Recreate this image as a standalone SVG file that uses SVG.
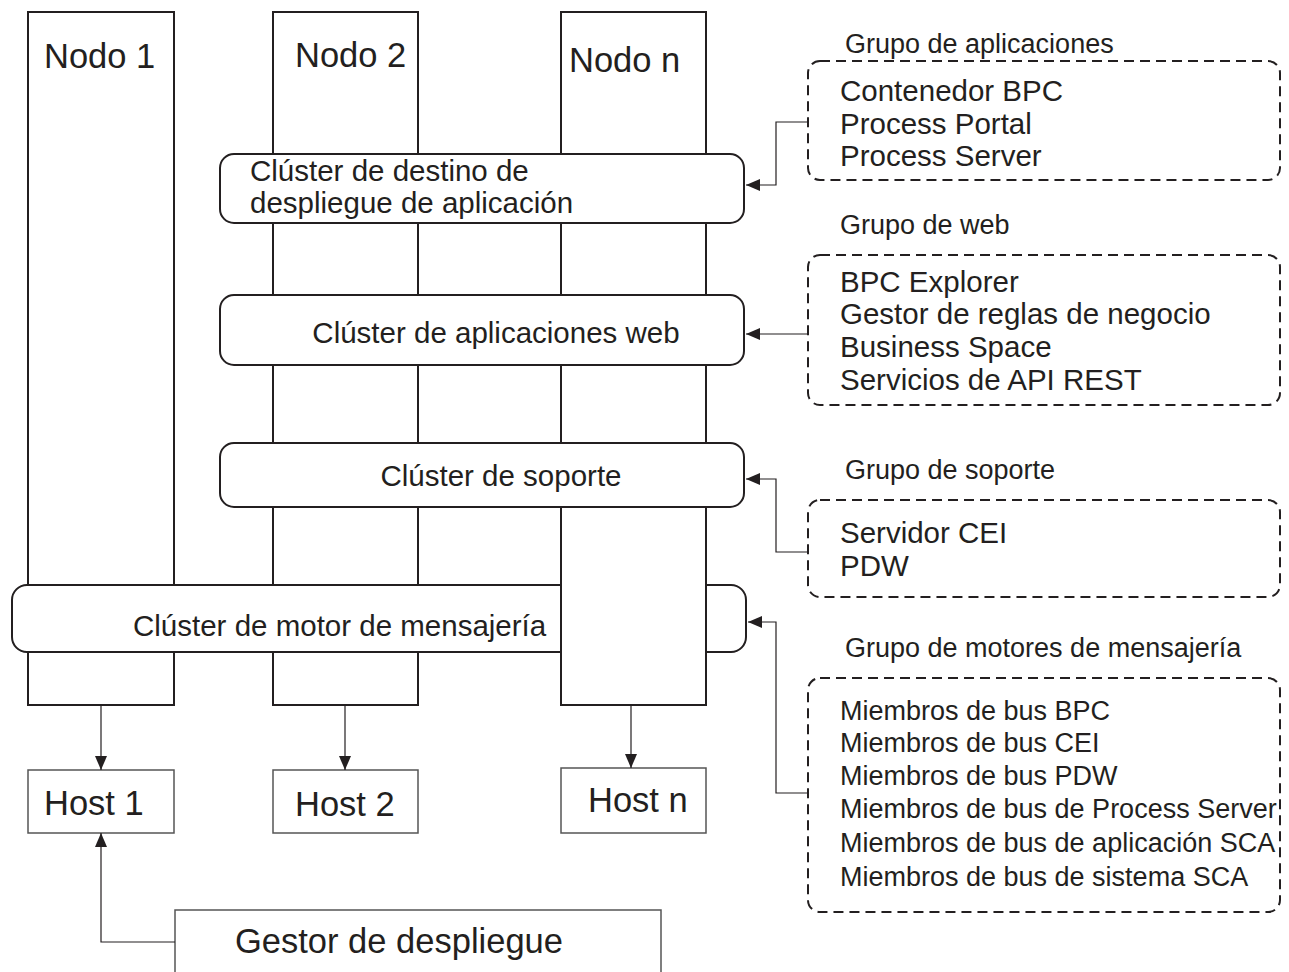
<svg xmlns="http://www.w3.org/2000/svg" width="1289" height="972" viewBox="0 0 1289 972">
<style>
text{font-family:"Liberation Sans",Arial,sans-serif;fill:#231f20}
.big{font-size:34.5px}
.mid{font-size:29.5px}
.sm{font-size:27px}
.node{fill:#fff;stroke:#231f20;stroke-width:2}
.cl{fill:#fff;stroke:#231f20;stroke-width:2}
.host{fill:#fff;stroke:#555;stroke-width:1.5}
.grp{fill:none;stroke:#231f20;stroke-width:2;stroke-dasharray:10 6}
.con{fill:none;stroke:#231f20;stroke-width:1.2}
</style>
<defs>
<marker id="ah" markerUnits="userSpaceOnUse" markerWidth="16" markerHeight="13" refX="14" refY="6" orient="auto">
<path d="M0,0 L14,6 L0,12 z" fill="#231f20"/>
</marker>
</defs>
<rect width="1289" height="972" fill="#fff"/>
<g id="nodo1"><rect class="node" x="28" y="12" width="146" height="693"/><text class="big" x="44" y="68">Nodo 1</text></g>
<g id="nodo2"><rect class="node" x="273" y="12" width="145" height="693"/><text class="big" x="295" y="67">Nodo 2</text></g>
<g id="cluster-mensajeria"><rect class="cl" x="12" y="585" width="734" height="67" rx="15"/><text class="mid" x="133" y="636">Clúster de motor de mensajería</text></g>
<g id="nodon"><rect class="node" x="561" y="12" width="145" height="693"/><text class="big" x="569" y="72">Nodo n</text></g>
<g id="cluster-destino"><rect class="cl" x="220" y="154" width="524" height="69" rx="14"/><text class="mid" x="250" y="181">Clúster de destino de</text><text class="mid" x="250" y="213">despliegue de aplicación</text></g>
<g id="cluster-web"><rect class="cl" x="220" y="295" width="524" height="70" rx="14"/><text class="mid" x="496" y="343" text-anchor="middle">Clúster de aplicaciones web</text></g>
<g id="cluster-soporte"><rect class="cl" x="220" y="443" width="524" height="64" rx="14"/><text class="mid" x="501" y="486" text-anchor="middle">Clúster de soporte</text></g>
<g id="host1"><rect class="host" x="28" y="770" width="146" height="63"/><text class="big" x="44" y="815">Host 1</text></g>
<g id="host2"><rect class="host" x="273" y="770" width="145" height="63"/><text class="big" x="295" y="816">Host 2</text></g>
<g id="hostn"><rect class="host" x="561" y="768" width="145" height="65"/><text class="big" x="588" y="812">Host n</text></g>
<g id="gestor"><rect class="host" x="175" y="910" width="486" height="70"/><text class="big" x="235" y="953">Gestor de despliegue</text></g>
<g id="grupo-aplicaciones"><text class="sm" x="845" y="53">Grupo de aplicaciones</text><rect class="grp" x="808" y="61" width="472" height="119" rx="12"/><text class="mid" x="840" y="101">Contenedor BPC</text><text class="mid" x="840" y="134">Process Portal</text><text class="mid" x="840" y="166">Process Server</text></g>
<g id="grupo-web"><text class="sm" x="840" y="234">Grupo de web</text><rect class="grp" x="808" y="255" width="472" height="150" rx="12"/><text class="mid" x="840" y="292">BPC Explorer</text><text class="mid" x="840" y="324">Gestor de reglas de negocio</text><text class="mid" x="840" y="357">Business Space</text><text class="mid" x="840" y="390">Servicios de API REST</text></g>
<g id="grupo-soporte"><text class="sm" x="845" y="479">Grupo de soporte</text><rect class="grp" x="808" y="500" width="472" height="97" rx="12"/><text class="mid" x="840" y="543">Servidor CEI</text><text class="mid" x="840" y="576">PDW</text></g>
<g id="grupo-motores"><text class="sm" x="845" y="657">Grupo de motores de mensajería</text><rect class="grp" x="808" y="678" width="472" height="234" rx="12"/><text class="sm" x="840" y="720">Miembros de bus BPC</text><text class="sm" x="840" y="752">Miembros de bus CEI</text><text class="sm" x="840" y="785">Miembros de bus PDW</text><text class="sm" x="840" y="818">Miembros de bus de Process Server</text><text class="sm" x="840" y="852">Miembros de bus de aplicación SCA</text><text class="sm" x="840" y="886">Miembros de bus de sistema SCA</text></g>
<g id="connectors">
<path class="con" d="M101,705 V770" marker-end="url(#ah)"/>
<path class="con" d="M345,705 V770" marker-end="url(#ah)"/>
<path class="con" d="M631,705 V768" marker-end="url(#ah)"/>
<path class="con" d="M175,942 H101 V833" marker-end="url(#ah)"/>
<path class="con" d="M808,122 H776 V185 H746" marker-end="url(#ah)"/>
<path class="con" d="M808,334 H746" marker-end="url(#ah)"/>
<path class="con" d="M808,552 H776 V479 H746" marker-end="url(#ah)"/>
<path class="con" d="M808,793 H776 V622 H748" marker-end="url(#ah)"/>
</g>
</svg>
